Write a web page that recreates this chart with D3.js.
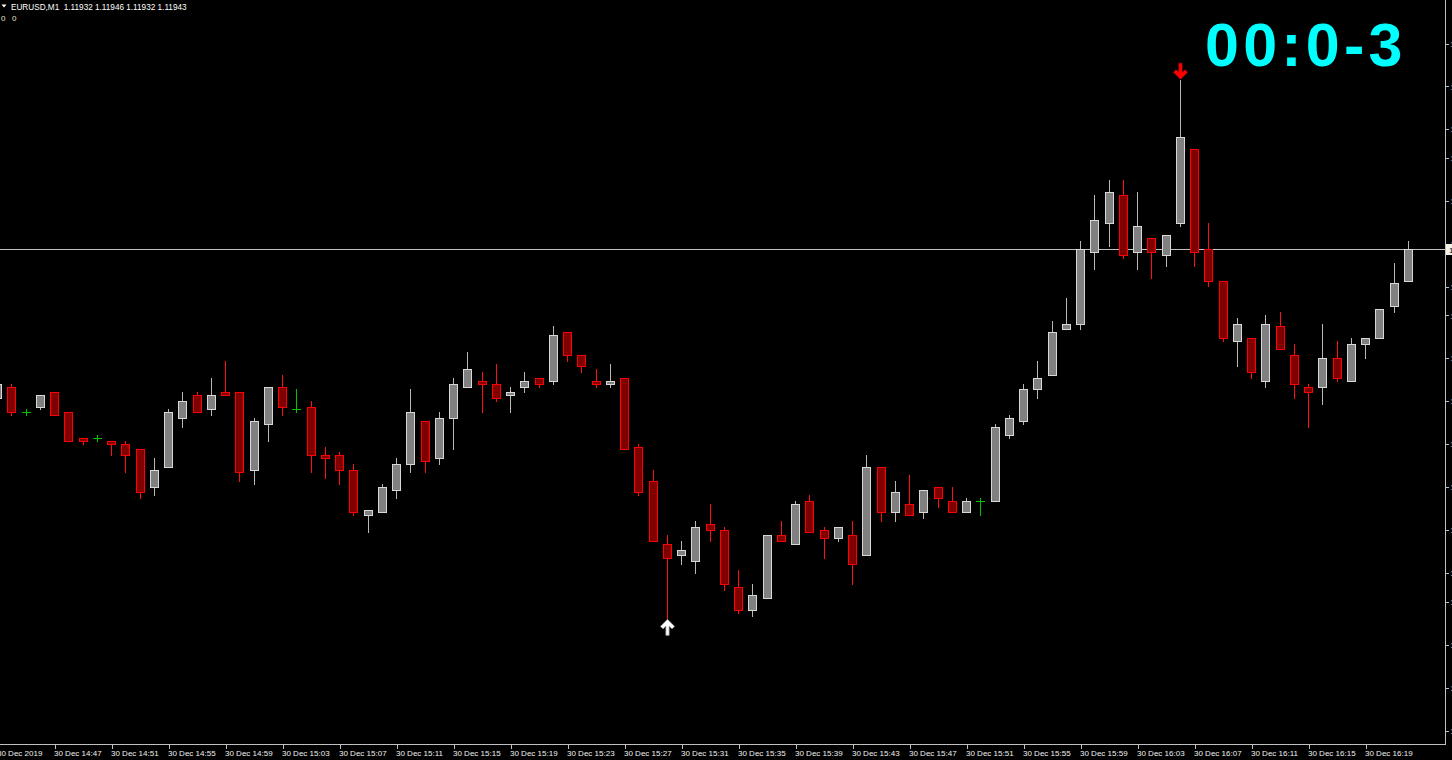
<!DOCTYPE html>
<html>
<head>
<meta charset="utf-8">
<script src="https://cdn.jsdelivr.net/npm/d3@7"></script>
<style>
  html, body { margin: 0; padding: 0; background: #000; overflow: hidden; }
  svg { display: block; }
</style>
</head>
<body>
<svg id="chart" width="1452" height="760"></svg>
<script>
// ---------- DATA ----------
const symbol = "EURUSD,M1";
const headerValues = [1.11932, 1.11946, 1.11932, 1.11943];
const timerText = "00:0-3";

const times = [
  "14:43","14:44","14:45","14:46","14:47","14:48","14:49","14:50","14:51","14:52",
  "14:53","14:54","14:55","14:56","14:57","14:58","14:59","15:00","15:01","15:02",
  "15:03","15:04","15:05","15:06","15:07","15:08","15:09","15:10","15:11","15:12",
  "15:13","15:14","15:15","15:16","15:17","15:18","15:19","15:20","15:21","15:22",
  "15:23","15:24","15:25","15:26","15:27","15:28","15:29","15:30","15:31","15:32",
  "15:33","15:34","15:35","15:36","15:37","15:38","15:39","15:40","15:41","15:42",
  "15:43","15:44","15:45","15:46","15:47","15:48","15:49","15:50","15:51","15:52",
  "15:53","15:54","15:55","15:56","15:57","15:58","15:59","16:00","16:01","16:02",
  "16:03","16:04","16:05","16:06","16:07","16:08","16:09","16:10","16:11","16:12",
  "16:13","16:14","16:15","16:16","16:17","16:18","16:19","16:20","16:21","16:22"
];

const open = [
  1.11891,1.11895,1.11886,1.11888,1.11893,1.11886,1.11877,1.11877,1.11876,1.11875,
  1.11873,1.11860,1.11867,1.11884,1.11892,1.11887,1.11893,1.11893,1.11866,1.11882,
  1.11895,1.11887,1.11888,1.11871,1.11871,1.11866,1.11850,1.11851,1.11859,1.11868,
  1.11883,1.11870,1.11884,1.11895,1.11897,1.11896,1.11892,1.11895,1.11898,1.11897,
  1.11914,1.11906,1.11897,1.11896,1.11898,1.11874,1.11862,1.11840,1.11836,1.11834,
  1.11847,1.11845,1.11825,1.11817,1.11821,1.11843,1.11840,1.11855,1.11845,1.11842,
  1.11843,1.11836,1.11867,1.11851,1.11854,1.11851,1.11860,1.11855,1.11851,1.11855,
  1.11855,1.11878,1.11883,1.11894,1.11899,1.11915,1.11917,1.11942,1.11952,1.11962,
  1.11942,1.11947,1.11941,1.11952,1.11978,1.11943,1.11932,1.11911,1.11912,1.11897,
  1.11916,1.11906,1.11895,1.11895,1.11905,1.11897,1.11910,1.11912,1.11923,1.11932
];
const high = [
  1.11897,1.11896,1.11887,1.11892,1.11893,1.11886,1.11877,1.11878,1.11876,1.11876,
  1.11873,1.11870,1.11887,1.11893,1.11893,1.11898,1.11904,1.11893,1.11884,1.11895,
  1.11899,1.11894,1.11890,1.11874,1.11872,1.11868,1.11852,1.11861,1.11870,1.11894,
  1.11883,1.11886,1.11898,1.11907,1.11900,1.11903,1.11895,1.11900,1.11898,1.11916,
  1.11914,1.11906,1.11901,1.11903,1.11898,1.11875,1.11866,1.11843,1.11841,1.11848,
  1.11854,1.11846,1.11831,1.11826,1.11843,1.11848,1.11855,1.11857,1.11846,1.11846,
  1.11848,1.11871,1.11867,1.11862,1.11864,1.11859,1.11860,1.11860,1.11856,1.11856,
  1.11882,1.11885,1.11896,1.11904,1.11918,1.11926,1.11946,1.11962,1.11967,1.11967,
  1.11963,1.11947,1.11948,1.12002,1.11978,1.11952,1.11932,1.11919,1.11912,1.11920,
  1.11921,1.11910,1.11896,1.11917,1.11911,1.11912,1.11912,1.11922,1.11938,1.11946
];
const low = [
  1.11890,1.11885,1.11885,1.11887,1.11885,1.11876,1.11875,1.11876,1.11871,1.11865,
  1.11856,1.11857,1.11867,1.11881,1.11886,1.11885,1.11892,1.11862,1.11861,1.11876,
  1.11885,1.11886,1.11865,1.11863,1.11861,1.11850,1.11844,1.11851,1.11856,1.11865,
  1.11865,1.11868,1.11873,1.11895,1.11886,1.11890,1.11886,1.11893,1.11895,1.11896,
  1.11904,1.11900,1.11895,1.11895,1.11873,1.11857,1.11841,1.11814,1.11833,1.11830,
  1.11841,1.11824,1.11816,1.11815,1.11821,1.11841,1.11840,1.11844,1.11835,1.11841,
  1.11826,1.11836,1.11848,1.11848,1.11850,1.11849,1.11853,1.11851,1.11851,1.11850,
  1.11855,1.11877,1.11882,1.11891,1.11899,1.11915,1.11915,1.11936,1.11944,1.11940,
  1.11936,1.11933,1.11937,1.11951,1.11937,1.11930,1.11911,1.11902,1.11898,1.11895,
  1.11908,1.11891,1.11881,1.11889,1.11897,1.11897,1.11905,1.11912,1.11921,1.11932
];
const close = [
  1.11896,1.11886,1.11886,1.11892,1.11885,1.11876,1.11876,1.11877,1.11875,1.11871,
  1.11858,1.11866,1.11886,1.11890,1.11886,1.11892,1.11892,1.11865,1.11883,1.11895,
  1.11888,1.11887,1.11871,1.11870,1.11866,1.11851,1.11852,1.11860,1.11868,1.11886,
  1.11869,1.11884,1.11896,1.11901,1.11896,1.11891,1.11893,1.11897,1.11896,1.11913,
  1.11906,1.11902,1.11896,1.11897,1.11873,1.11858,1.11841,1.11835,1.11838,1.11846,
  1.11845,1.11826,1.11817,1.11822,1.11843,1.11841,1.11854,1.11844,1.11842,1.11846,
  1.11833,1.11867,1.11851,1.11858,1.11850,1.11859,1.11856,1.11851,1.11855,1.11855,
  1.11881,1.11884,1.11894,1.11898,1.11914,1.11917,1.11943,1.11953,1.11963,1.11941,
  1.11951,1.11942,1.11948,1.11982,1.11942,1.11932,1.11912,1.11917,1.11900,1.11917,
  1.11908,1.11896,1.11893,1.11905,1.11898,1.11910,1.11912,1.11922,1.11931,1.11943
];

const tickTimes = ["14:43","14:47","14:51","14:55","14:59","15:03","15:07","15:11","15:15",
  "15:19","15:23","15:27","15:31","15:35","15:39","15:43","15:47","15:51","15:55","15:59",
  "16:03","16:07","16:11","16:15","16:19"];
const tickLabels = ["30 Dec 2019","30 Dec 14:47","30 Dec 14:51","30 Dec 14:55","30 Dec 14:59",
  "30 Dec 15:03","30 Dec 15:07","30 Dec 15:11","30 Dec 15:15","30 Dec 15:19","30 Dec 15:23",
  "30 Dec 15:27","30 Dec 15:31","30 Dec 15:35","30 Dec 15:39","30 Dec 15:43","30 Dec 15:47",
  "30 Dec 15:51","30 Dec 15:55","30 Dec 15:59","30 Dec 16:03","30 Dec 16:07","30 Dec 16:11",
  "30 Dec 16:15","30 Dec 16:19"];
const priceTicks = [1.12015,1.12000,1.11985,1.11975,1.11960,1.11945,1.11930,1.11920,1.11905,
  1.11890,1.11875,1.11860,1.11845,1.11830,1.11820,1.11805,1.11790,1.11775];

const bidPrice = 1.11943;
const arrowUpTime = "15:30";   // fractal low marker
const arrowDownTime = "16:06"; // fractal high marker

// ---------- LAYOUT ----------
const W = 1452, H = 760;
const plotRight = 1445, plotBottom = 744;
const svg = d3.select("#chart");
svg.append("rect").attr("width", W).attr("height", H).attr("fill", "#000");

const x = d3.scalePoint().domain(times).range([-3, 1407.75]);
const y = d3.scaleLinear().domain([1.11775, 1.12015]).range([730, 43]);

const candles = times.map((t, i) => ({ t, o: open[i], h: high[i], l: low[i], c: close[i] }));

const plot = svg.append("g");
plot.append("clipPath").attr("id", "pc").append("rect")
  .attr("x", 0).attr("y", 0).attr("width", plotRight).attr("height", plotBottom);
const g = plot.append("g").attr("clip-path", "url(#pc)");

// bid line
g.append("line")
  .attr("x1", 0).attr("x2", plotRight)
  .attr("y1", Math.round(y(bidPrice)) + 0.5).attr("y2", Math.round(y(bidPrice)) + 0.5)
  .attr("stroke", "#c0c0c0").attr("stroke-width", 1);

const upFill = "#808080", upLine = "#d8d8d8", upWick = "#b8b8b8";
const dnFill = "#800000", dnLine = "#ff0000", dnWick = "#ff1010";
const dojiCol = "#00c400";

const cg = g.append("g").attr("shape-rendering", "crispEdges");
candles.forEach(d => {
  const cx = Math.round(x(d.t));
  const doji = d.o === d.c;
  const up = d.c > d.o;
  const wickCol = doji ? dojiCol : (up ? upWick : dnWick);
  cg.append("line")
    .attr("x1", cx + 0.5).attr("x2", cx + 0.5)
    .attr("y1", Math.round(y(d.h))).attr("y2", Math.round(y(d.l)) + 1)
    .attr("stroke", wickCol).attr("stroke-width", 1);
  if (doji) {
    const yy = Math.round(y(d.o)) + 0.5;
    cg.append("line").attr("x1", cx - 4).attr("x2", cx + 5)
      .attr("y1", yy).attr("y2", yy).attr("stroke", dojiCol).attr("stroke-width", 1);
  } else {
    const top = Math.round(y(Math.max(d.o, d.c)));
    const bot = Math.round(y(Math.min(d.o, d.c)));
    cg.append("rect")
      .attr("x", cx - 4 + 0.5).attr("y", top + 0.5)
      .attr("width", 8).attr("height", Math.max(bot - top, 1))
      .attr("fill", up ? upFill : dnFill)
      .attr("stroke", up ? upLine : dnLine).attr("stroke-width", 1);
  }
});

// up arrow below the low of 15:30
(function () {
  const d = candles.find(c => c.t === arrowUpTime);
  const cx = Math.round(x(d.t)) + 0.5;
  const tip = y(d.l) + 1;
  const pts = [[0,0],[7,7],[4.5,9.5],[1.6,6.6],[1.6,16],[-1.6,16],[-1.6,6.6],[-4.5,9.5],[-7,7]]
    .map(([a,b]) => [cx + a, tip + b]);
  g.append("path").attr("d", d3.line()(pts) + "Z")
    .attr("fill", "#ffffff").attr("stroke", "#9a9a9a").attr("stroke-width", 0.8)
    .attr("stroke-linejoin", "round");
})();
// down arrow above the high of 16:06
(function () {
  const d = candles.find(c => c.t === arrowDownTime);
  const cx = Math.round(x(d.t)) + 0.5;
  const tip = y(d.h) - 1;
  const pts = [[0,0],[7,-7],[4.5,-9.5],[1.6,-6.6],[1.6,-16],[-1.6,-16],[-1.6,-6.6],[-4.5,-9.5],[-7,-7]]
    .map(([a,b]) => [cx + a, tip + b]);
  g.append("path").attr("d", d3.line()(pts) + "Z")
    .attr("fill", "#ff0000").attr("stroke", "#cc0000").attr("stroke-width", 0.6)
    .attr("stroke-linejoin", "round");
})();

// frame
const axCol = "#c0c0c0";
svg.append("line").attr("x1", plotRight + 0.5).attr("x2", plotRight + 0.5)
  .attr("y1", 0).attr("y2", plotBottom + 1).attr("stroke", axCol);
svg.append("line").attr("x1", 0).attr("x2", plotRight + 1)
  .attr("y1", plotBottom + 0.5).attr("y2", plotBottom + 0.5).attr("stroke", axCol);

// bottom axis
const xAxis = d3.axisBottom(x).tickValues(tickTimes)
  .tickFormat((d, i) => tickLabels[i]).tickSize(4).tickPadding(2);
const xa = svg.append("g").attr("transform", `translate(0.5,${plotBottom + 0.5})`)
  .attr("shape-rendering", "crispEdges").call(xAxis);
xa.select(".domain").remove();
xa.selectAll(".tick line").attr("stroke", axCol)
  .attr("transform", d => `translate(${Math.round(x(d)) - x(d)},0)`);
xa.selectAll(".tick text")
  .attr("fill", "#f0f0f0").attr("text-anchor", "start")
  .attr("x", -1).attr("dy", null).attr("y", 11.5)
  .style("font-family", "'Liberation Sans', Arial, sans-serif").style("font-size", "8px");

// right axis
const yAxis = d3.axisRight(y).tickValues(priceTicks).tickFormat(d3.format(".5f"))
  .tickSize(3).tickPadding(2);
const ya = svg.append("g").attr("transform", `translate(${plotRight + 0.5},0.5)`)
  .attr("shape-rendering", "crispEdges").call(yAxis);
ya.select(".domain").remove();
ya.selectAll(".tick line").attr("stroke", axCol);
ya.selectAll(".tick text").attr("fill", "#e8e8e8")
  .style("font-family", "'Liberation Sans', Arial, sans-serif").style("font-size", "8px");

// current bid label on the price scale
const by = Math.round(y(bidPrice));
svg.append("rect").attr("x", plotRight + 1).attr("y", by - 5).attr("width", 60).attr("height", 11)
  .attr("fill", "#f4f0ea");
svg.append("text").attr("x", plotRight + 4).attr("y", by + 3.5).text(d3.format(".5f")(bidPrice))
  .attr("fill", "#000").style("font-family", "'Liberation Sans', Arial, sans-serif").style("font-size", "8px");

// header
svg.append("path").attr("d", "M1.5,4.5 L6.5,4.5 L4,7.5 Z").attr("fill", "#ffffff");
svg.append("text").attr("x", 11).attr("y", 9.5)
  .text(symbol + "  " + headerValues.map(d3.format(".5f")).join(" "))
  .attr("fill", "#ffffff").attr("xml:space", "preserve")
  .style("white-space", "pre")
  .style("font-family", "'Liberation Sans', Arial, sans-serif").style("font-size", "8.2px");
svg.append("text").attr("x", 1).attr("y", 20.5).text("0")
  .attr("fill", "#f0e2cc").style("font-family", "'Liberation Sans', Arial, sans-serif").style("font-size", "8px");
svg.append("text").attr("x", 12).attr("y", 20.5).text("0")
  .attr("fill", "#f0e2cc").style("font-family", "'Liberation Sans', Arial, sans-serif").style("font-size", "8px");

// countdown timer
svg.append("text").attr("x", 1205).attr("y", 66).text(timerText)
  .attr("fill", "#00ffff")
  .style("font-family", "'Liberation Sans', Arial, sans-serif")
  .style("font-weight", "bold").style("font-size", "61px").style("letter-spacing", "4.2px");
</script>
</body>
</html>
